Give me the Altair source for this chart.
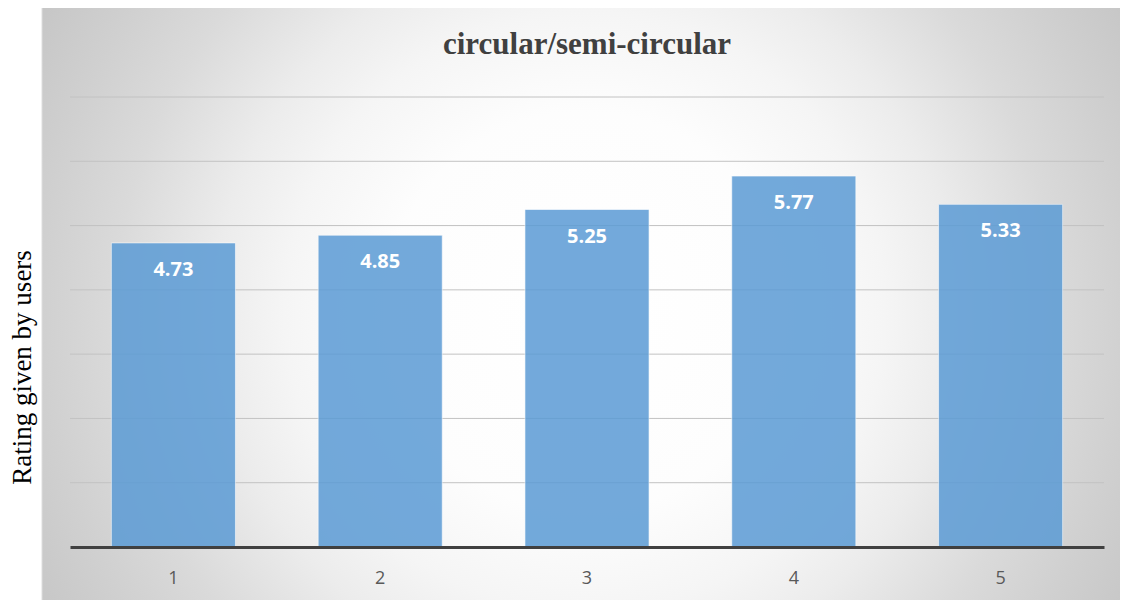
import altair as alt
import pandas as pd

categories = ["1", "2", "3", "4", "5"]
ratings = [4.73, 4.85, 5.25, 5.77, 5.33]
grid_values = [1, 2, 3, 4, 5, 6, 7]

df = pd.DataFrame({"cat": categories, "val": ratings})
grid_df = pd.DataFrame({"g": grid_values})
bg_df = pd.DataFrame({"k": [0]})

W, H = 1034, 450

gradient = {
    "gradient": "radial",
    "x1": 0.5, "y1": 0.5, "r1": 0,
    "x2": 0.5, "y2": 0.5, "r2": 0.576,
    "stops": [
        {"offset": 0, "color": "#ffffff"},
        {"offset": 0.32, "color": "#fdfdfd"},
        {"offset": 0.48, "color": "#f5f5f5"},
        {"offset": 0.59, "color": "#ececec"},
        {"offset": 0.75, "color": "#dadada"},
        {"offset": 0.87, "color": "#d0d0d0"},
        {"offset": 1, "color": "#c6c6c6"},
    ],
}

background = alt.Chart(bg_df).mark_rect(
    fill=gradient, stroke="#dedede", strokeWidth=1, clip=False
).encode(
    x=alt.value(-28), x2=alt.value(1058),
    y=alt.value(-90), y2=alt.value(520),
)

yscale = alt.Scale(domain=[0, 7], nice=False)

grid = alt.Chart(grid_df).mark_rule(color="#c2c2c2", strokeWidth=1).encode(
    y=alt.Y("g:Q", scale=yscale),
    x=alt.value(0), x2=alt.value(W),
)

bars = alt.Chart(df).mark_bar(
    color="#5b9bd5", opacity=0.85, stroke="#ffffff", strokeWidth=1, strokeOpacity=0.6
).encode(
    x=alt.X("cat:N", sort=categories, scale=alt.Scale(paddingInner=0.4, paddingOuter=0.2),
            axis=alt.Axis(title=None, labelAngle=0, ticks=False, domain=True,
                          domainColor="#404040", domainWidth=3,
                          labelFont="Open Sans", labelFontSize=18, labelColor="#595959",
                          labelBaseline="middle", labelPadding=31, zindex=1)),
    y=alt.Y("val:Q", scale=yscale,
            axis=alt.Axis(title="Rating given by users", labels=False, ticks=False,
                          domain=False, grid=False, titleFont="Liberation Serif",
                          titleFontSize=27, titleFontWeight="normal", titleColor="#000000",
                          titleX=-48, titleY=270, titleAngle=-90, titleAlign="center",
                          titleBaseline="middle", zindex=1)),
)

labels = alt.Chart(df).mark_text(
    color="#ffffff", font="Open Sans", fontWeight="bold", fontSize=20,
    baseline="middle", dy=27
).encode(
    x=alt.X("cat:N", sort=categories),
    y=alt.Y("val:Q", scale=yscale),
    text=alt.Text("val:Q", format=".2f"),
)

chart = alt.layer(background, grid, bars, labels).properties(
    width=W, height=H,
    title=alt.TitleParams("circular/semi-circular", font="Liberation Serif", fontSize=31,
                          fontWeight="bold", color="#404040", anchor="middle",
                          baseline="alphabetic", offset=0, dy=78),
    padding={"left": 62, "top": 89, "right": 16, "bottom": 53},
    autosize=alt.AutoSizeParams(type="none"),
).configure_view(stroke=None).configure(background="#ffffff")

chart.save("out.html", embed_options={"renderer": "svg", "actions": False})
